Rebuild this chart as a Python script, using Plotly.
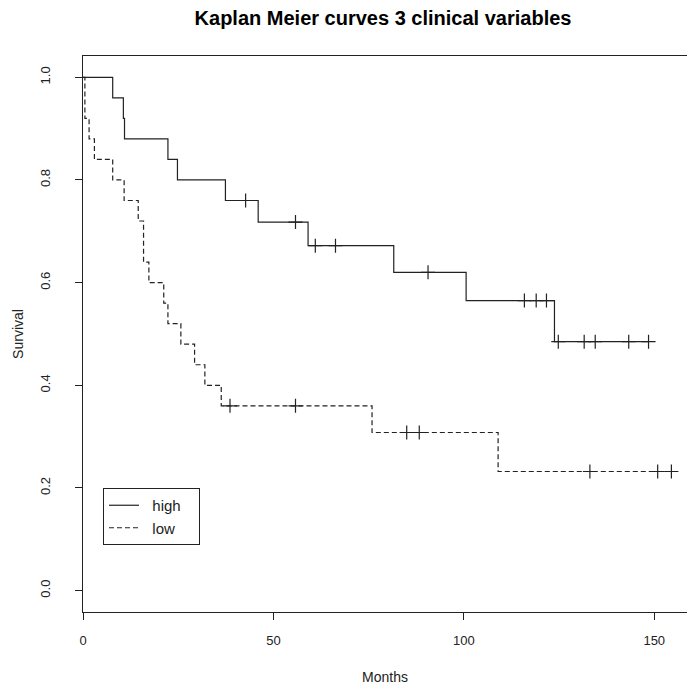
import plotly.graph_objects as go

# ---- data ----
high_step_times = [0, 7.8, 10.6, 10.9, 22.3, 24.8, 37.4, 46.0, 59.1, 81.6, 100.6, 123.8]
high_step_surv = [1.0, 0.96, 0.92, 0.88, 0.84, 0.80, 0.76, 0.718, 0.672, 0.620, 0.565, 0.485]
high_end_time = 148.5
high_censor_times = [42.7, 55.8, 61.0, 66.3, 90.6, 115.9, 119.0, 121.7, 124.8, 131.6, 134.5, 143.3, 148.5]

low_step_times = [0, 0.5, 1.6, 3.0, 7.8, 10.8, 14.5, 15.9, 17.3, 21.2, 22.3, 25.7, 29.3, 32.0, 36.3, 75.9, 109.0]
low_step_surv = [1.0, 0.92, 0.88, 0.84, 0.80, 0.76, 0.72, 0.64, 0.60, 0.56, 0.52, 0.48, 0.44, 0.40, 0.36, 0.308, 0.232]
low_end_time = 154.5
low_censor_times = [38.6, 55.8, 85.0, 88.3, 133.1, 150.9, 154.5]

group_names = ["high", "low"]
x_ticks = [0, 50, 100, 150]
y_ticks = [0.0, 0.2, 0.4, 0.6, 0.8, 1.0]


def surv_at(t, times, surv):
    s = surv[0]
    for tt, ss in zip(times, surv):
        if tt <= t:
            s = ss
    return s


LINE_COL = "#222222"
FONT = "Liberation Sans, Arial, sans-serif"
NB = "\u00a0"

fig = go.Figure()
groups = [
    (group_names[0], high_step_times, high_step_surv, high_end_time, high_censor_times, "solid"),
    (group_names[1], low_step_times, low_step_surv, low_end_time, low_censor_times, "5px,3px"),
]
for name, st, ss, te, ct, dash in groups:
    xs = list(st) + [te]
    ys = list(ss) + [ss[-1]]
    fig.add_trace(go.Scatter(
        x=xs, y=ys, mode="lines", name=NB * 2 + name + NB * 3, line_shape="hv",
        line=dict(color=LINE_COL, width=1.2, dash=dash),
    ))
for name, st, ss, te, ct, dash in groups:
    fig.add_trace(go.Scatter(
        x=ct, y=[surv_at(t, st, ss) for t in ct], mode="markers", showlegend=False,
        marker=dict(symbol="cross-thin-open", size=10, color=LINE_COL,
                    line=dict(color=LINE_COL, width=1.2)),
        hoverinfo="skip",
    ))

fig.update_layout(
    width=687, height=688,
    margin=dict(l=83, r=0, t=56, b=76),
    paper_bgcolor="white", plot_bgcolor="white",
    font=dict(family=FONT, size=13, color="#222222"),
    title=dict(text="<b>Kaplan Meier curves 3 clinical variables</b>",
               x=383 / 687, xanchor="center", y=1 - 18 / 688, yanchor="middle",
               font=dict(size=20, color="#000000", family=FONT)),
    legend=dict(x=(103 - 83) / 604, y=(612 - 488) / 556, xanchor="left", yanchor="top",
                bordercolor="#222222", borderwidth=1, bgcolor="white",
                font=dict(size=15, family=FONT), itemwidth=30, tracegroupgap=0),
    showlegend=True,
)
fig.update_xaxes(
    range=[0, 158.6], tickvals=x_ticks, ticks="outside", ticklen=7, tickcolor=LINE_COL,
    showline=True, linecolor=LINE_COL, linewidth=1, mirror=True, showgrid=False, zeroline=False,
    title=dict(text="Months", standoff=25, font=dict(size=14)), tickfont=dict(size=13),
    ticklabelstandoff=9,
)
fig.update_yaxes(
    range=[-0.0417, 1.0415], tickvals=y_ticks, tickformat=".1f", tickangle=-90,
    ticks="outside", ticklen=7, tickcolor=LINE_COL,
    showline=True, linecolor=LINE_COL, linewidth=1, mirror=False, showgrid=False, zeroline=False,
    title=dict(text="Survival", standoff=10, font=dict(size=14)), tickfont=dict(size=13),
    ticklabelstandoff=20,
)

fig.write_html("out.html")
